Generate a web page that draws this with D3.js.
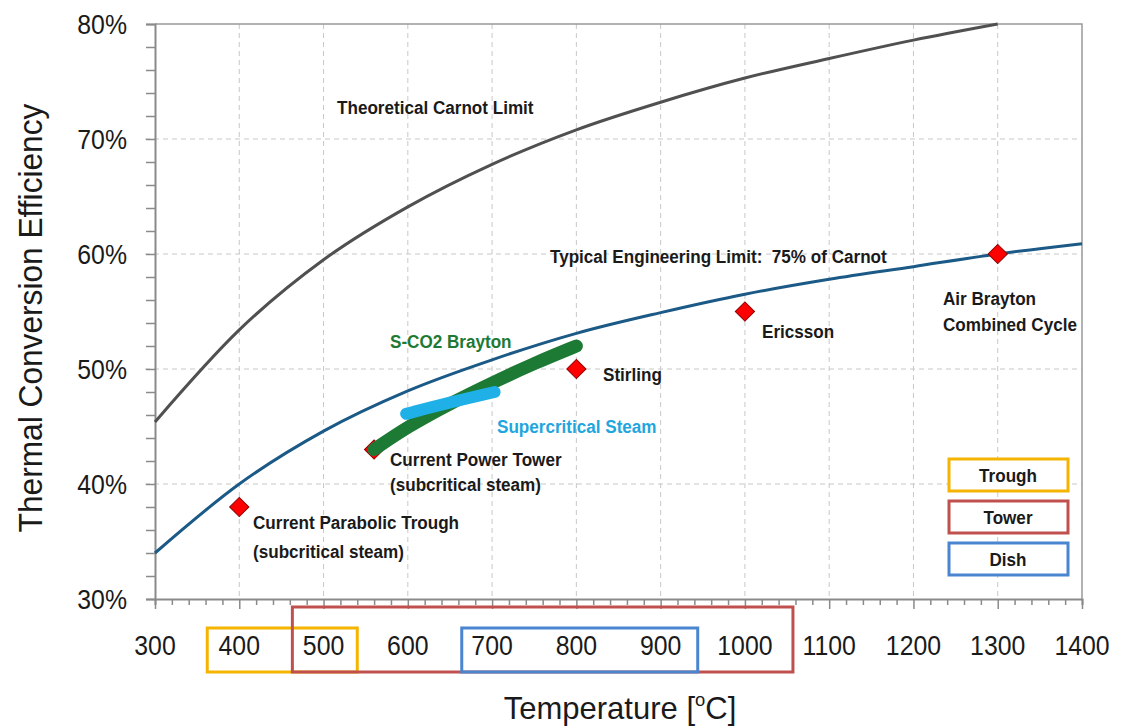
<!DOCTYPE html>
<html><head><meta charset="utf-8">
<script src="https://cdn.jsdelivr.net/npm/d3@7"></script>
<style>body{margin:0;background:#fff}svg{display:block}text{font-family:"Liberation Sans",Arial,sans-serif}</style>
</head><body><svg id="c" width="1121" height="728"></svg>
<script>
// ---- data ----
const carnotT   = [300,400,500,600,700,800,900,1000,1100,1200,1300];
const carnotEff = [45.4,53.4,59.5,64.1,67.8,70.8,73.2,75.3,77.0,78.6,80.0];
const engT      = [300,400,500,600,700,800,900,1000,1100,1200,1300,1400];
const engEff    = [34.0,40.0,44.6,48.1,50.8,53.1,54.9,56.5,57.8,58.9,60.0,60.9];
const sco2T     = [560,600,650,700,750,800];
const sco2Eff   = [43.0,45.0,47.0,48.8,50.5,52.0];
const steamT    = [598,650,703];
const steamEff  = [46.1,47.1,48.0];
const pointNames = ["Current Parabolic Trough","Current Power Tower","Stirling","Ericsson","Air Brayton"];
const pointT     = [400,560,800,1000,1300];
const pointEff   = [38,43,50,55,60];
const rangeNames = ["Trough","Tower","Dish"];
const rangeStart = [362,463,664];
const rangeEnd   = [540,1057,944];
const rangeColors = ["#f4b400","#c0504d","#4a86d0"];
const xTicks = [300,400,500,600,700,800,900,1000,1100,1200,1300,1400];
const yTicks = [30,40,50,60,70,80];

const svg = d3.select("#c");
const L=155,R=1082,T=24,B=599;
const x = d3.scaleLinear().domain([300,1400]).range([L,R]);
const y = d3.scaleLinear().domain([30,80]).range([B,T]);

// grid
svg.append("g").selectAll("line").data(xTicks.slice(1,-1)).join("line")
  .attr("x1",d=>x(d)).attr("x2",d=>x(d)).attr("y1",T).attr("y2",B)
  .attr("stroke","#c8c8c8").attr("stroke-width",1).attr("stroke-dasharray","5,4");
svg.append("g").selectAll("line").data(yTicks.slice(1,-1)).join("line")
  .attr("x1",L-10).attr("x2",R).attr("y1",d=>y(d)).attr("y2",d=>y(d))
  .attr("stroke","#c8c8c8").attr("stroke-width",1).attr("stroke-dasharray","5,4");

// frame
svg.append("path").attr("d",`M${L},${T}H${R}V${B}`).attr("fill","none").attr("stroke","#999").attr("stroke-width",1.5);

// y axis
const yAxis = d3.axisLeft(y).tickValues(d3.range(30,80.1,2)).tickSize(9).tickFormat("");
const gy = svg.append("g").attr("transform",`translate(${L},0)`).call(yAxis);
gy.select(".domain").attr("stroke","#8a8a8a").attr("stroke-width",2);
gy.selectAll(".tick line").attr("stroke","#8a8a8a").attr("stroke-width",1.5);
svg.append("g").selectAll("text").data(yTicks).join("text")
  .attr("transform",d=>`translate(127,${y(d)+10}) scale(0.92,1)`).attr("text-anchor","end")
  .attr("font-size",27).attr("fill","#1a1a1a").text(d=>d+"%");

// x axis
const xAxis = d3.axisBottom(x).tickValues(d3.range(300,1400.1,20)).tickSize(6).tickFormat("");
const gx = svg.append("g").attr("transform",`translate(0,${B})`).call(xAxis);
gx.select(".domain").attr("stroke","#8a8a8a").attr("stroke-width",2);
gx.selectAll(".tick line").attr("stroke","#8a8a8a").attr("stroke-width",1.5)
  .attr("y2",d=>d%100===0?10:6);
svg.append("g").selectAll("text").data(xTicks).join("text")
  .attr("transform",d=>`translate(${x(d)},655) scale(0.92,1)`).attr("text-anchor","middle")
  .attr("font-size",27).attr("fill","#1a1a1a").text(d=>d);

// range boxes below axis
const boxTop = [628,607,628];
rangeNames.forEach((n,i)=>{
  svg.append("rect").attr("x",x(rangeStart[i])).attr("y",boxTop[i])
    .attr("width",x(rangeEnd[i])-x(rangeStart[i])).attr("height",672-boxTop[i])
    .attr("fill","none").attr("stroke",rangeColors[i]).attr("stroke-width",3);
});

// axis titles
svg.append("text").attr("transform","translate(42,318) rotate(-90) scale(0.96,1)").attr("text-anchor","middle")
  .attr("font-size",33).attr("fill","#1a1a1a").text("Thermal Conversion Efficiency");
const xt = svg.append("text").attr("transform","translate(620,719) scale(0.97,1)").attr("text-anchor","middle")
  .attr("font-size",32).attr("fill","#1a1a1a");
xt.append("tspan").text("Temperature [");
xt.append("tspan").attr("font-size",19).attr("dy",-13).text("o");
xt.append("tspan").attr("dy",13).text("C]");

// curves
const line = d3.line().x(d=>x(d[0])).y(d=>y(d[1])).curve(d3.curveMonotoneX);
const smooth = d3.line().x(d=>x(d[0])).y(d=>y(d[1])).curve(d3.curveBasis);
svg.append("path").datum(carnotT.map((t,i)=>[t,carnotEff[i]])).attr("d",line)
  .attr("fill","none").attr("stroke","#505050").attr("stroke-width",3);
svg.append("path").datum(engT.map((t,i)=>[t,engEff[i]])).attr("d",line)
  .attr("fill","none").attr("stroke","#1b5a86").attr("stroke-width",3);

// diamonds
svg.append("g").selectAll("path").data(pointT).join("path")
  .attr("d",d3.symbol().type(d3.symbolSquare).size(185))
  .attr("transform",(d,i)=>`translate(${x(d)},${y(pointEff[i])}) rotate(45)`)
  .attr("fill","#f00").attr("stroke","#8b0000").attr("stroke-width",1);

svg.append("path").datum(sco2T.map((t,i)=>[t,sco2Eff[i]])).attr("d",smooth)
  .attr("fill","none").attr("stroke","#1d7a34").attr("stroke-width",13).attr("stroke-linecap","round");
svg.append("path").datum(steamT.map((t,i)=>[t,steamEff[i]])).attr("d",smooth)
  .attr("fill","none").attr("stroke","#1fb0e8").attr("stroke-width",12).attr("stroke-linecap","round");

// annotations
const ann = [
  ["Theoretical Carnot Limit",337,114,"#1a1a1a"],
  ["Typical Engineering Limit:  75% of Carnot",550,263,"#1a1a1a"],
  ["S-CO2 Brayton",390,348,"#1d7a34"],
  ["Stirling",603,381,"#1a1a1a"],
  ["Ericsson",762,338,"#1a1a1a"],
  ["Air Brayton",943,305,"#1a1a1a"],
  ["Combined Cycle",943,331,"#1a1a1a"],
  ["Supercritical Steam",497,433,"#1fa6de"],
  ["Current Power Tower",390,466,"#1a1a1a"],
  ["(subcritical steam)",390,491,"#1a1a1a"],
  ["Current Parabolic Trough",253,529,"#1a1a1a"],
  ["(subcritical steam)",253,558,"#1a1a1a"]
];
svg.append("g").selectAll("text").data(ann).join("text")
  .attr("transform",d=>`translate(${d[1]},${d[2]}) scale(0.9,1)`).attr("fill",d=>d[3])
  .attr("font-size",19).attr("font-weight","bold").style("white-space","pre").text(d=>d[0]);

// legend
rangeNames.forEach((n,i)=>{
  const ly = 459 + i*42;
  svg.append("rect").attr("x",949).attr("y",ly).attr("width",119).attr("height",32)
    .attr("fill","#fff").attr("stroke",rangeColors[i]).attr("stroke-width",3);
  svg.append("text").attr("transform",`translate(1008,${ly+23}) scale(0.95,1)`).attr("text-anchor","middle")
    .attr("font-size",18).attr("font-weight","bold").attr("fill","#1a1a1a").text(n);
});
</script></body></html>
